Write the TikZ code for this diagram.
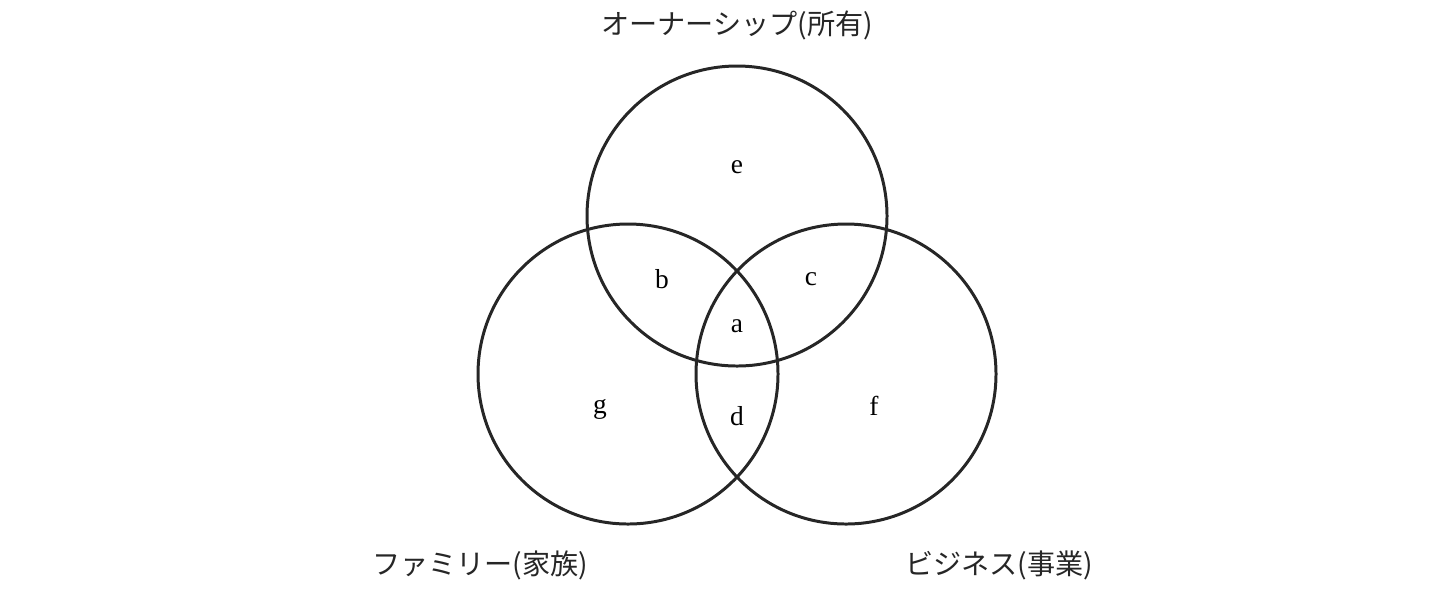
\documentclass[tikz,border=0pt]{standalone}
\usepackage{fontspec}
\setmainfont{Liberation Serif}
\newfontfamily\jpfont{Noto Sans CJK JP}
\tikzset{
  ring/.style={draw=black!85, line width=0.85pt},
  region/.style={font=\fontsize{7.8}{9}\selectfont},
  setlabel/.style={font=\jpfont\fontsize{8}{9}\selectfont, text=black!85}
}
\begin{document}
\begin{tikzpicture}[x=0.01cm,y=-0.01cm]
  \useasboundingbox (0,0) rectangle (1434,590);

  \pgfmathsetmacro{\rad}{150}

  % the three sets
  \draw[ring] (737,216) circle (\rad);
  \draw[ring] (628,374) circle (\rad);
  \draw[ring] (846,374) circle (\rad);

  \node[setlabel] (own) at (737,25) {オーナーシップ(所有)};
  \node[setlabel] (fam) at (480,565) {ファミリー(家族)};
  \node[setlabel] (bus) at (999,565) {ビジネス(事業)};

  % regions
  \node[region] (e) at (737,167) {e};
  \node[region] (b) at (662,279) {b};
  \node[region] (c) at (811,279) {c};
  \node[region] (a) at (737,326) {a};
  \node[region] (g) at (600,409) {g};
  \node[region] (d) at (737,416) {d};
  \node[region] (f) at (874,406) {f};
\end{tikzpicture}
\end{document}
